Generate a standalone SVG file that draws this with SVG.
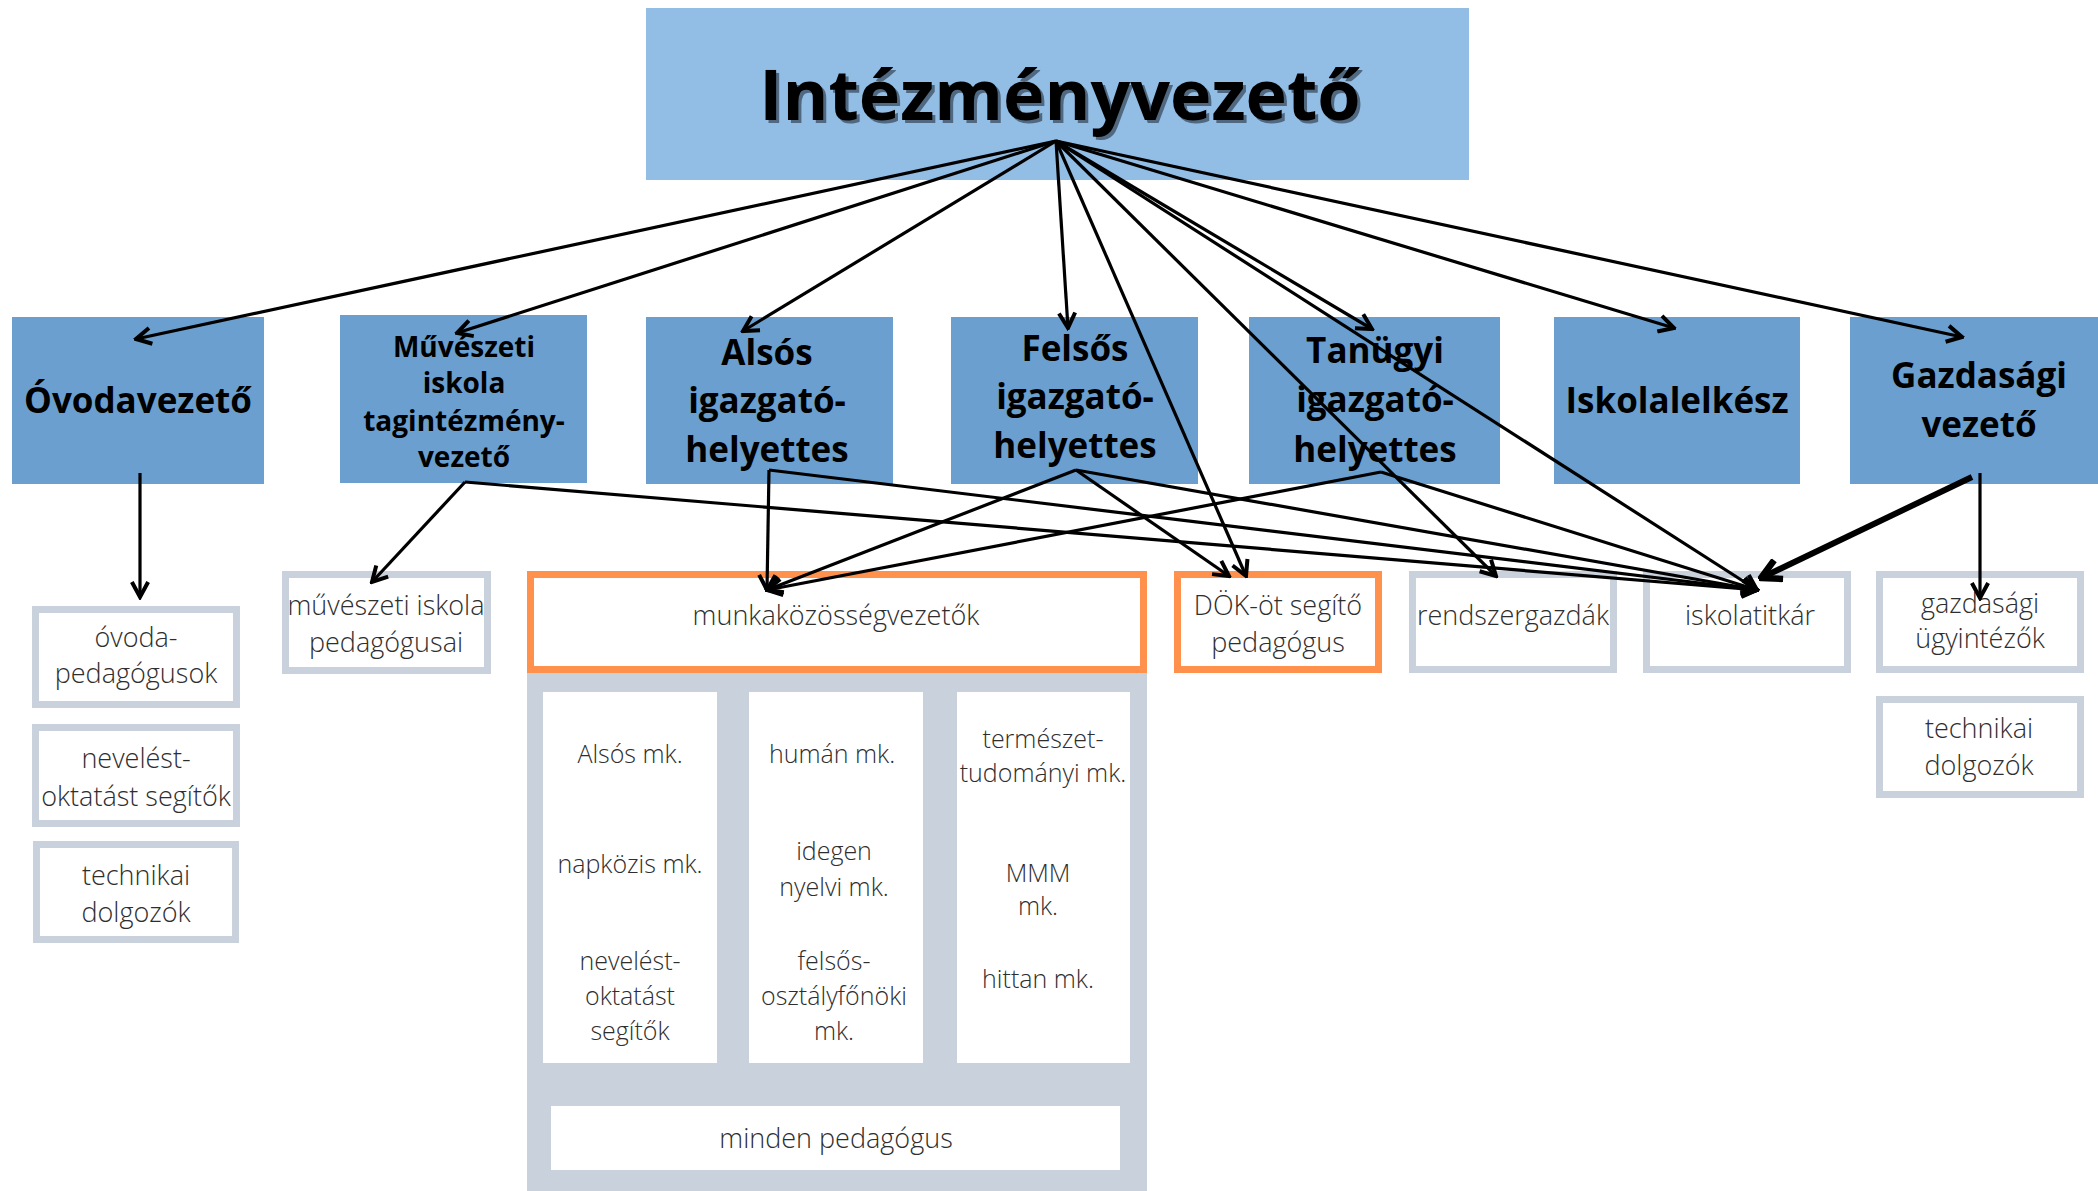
<svg xmlns="http://www.w3.org/2000/svg" width="2098" height="1191" viewBox="0 0 2098 1191">
<style>
.bg{fill:#ffffff}
.top{fill:#92BDE4}
.mid{fill:#6A9FCF}
.leaf{fill:#ffffff;stroke:#C8D1DC;stroke-width:7}
.org{fill:#ffffff;stroke:#FF914D;stroke-width:7}
.panel{fill:#C8D1DC}
.wbox{fill:#ffffff}
.tb{font-family:"Open Sans","Noto Sans","Liberation Sans",sans-serif;font-weight:700;fill:#000;text-anchor:middle}
.tl{font-family:"Open Sans","Noto Sans","Liberation Sans",sans-serif;font-weight:300;fill:#2e2e2e;text-anchor:middle;font-size:27px}
.ts{font-size:25px}
.c{fill:none;stroke:#000;stroke-width:3.2;marker-end:url(#ah)}
.ct{fill:none;stroke:#000;stroke-width:6;marker-end:url(#ahb)}
</style>
<defs>
<marker id="ah" markerUnits="userSpaceOnUse" markerWidth="20" markerHeight="20" viewBox="-14 -8 16 16" refX="0" refY="0" orient="auto">
<path d="M-12,-6.5 L0,0 L-12,6.5" fill="none" stroke="#000" stroke-width="3.2"/>
</marker>
<marker id="ahb" markerUnits="userSpaceOnUse" markerWidth="26" markerHeight="26" viewBox="-18 -10 20 20" refX="0" refY="0" orient="auto">
<path d="M-15,-8 L0,0 L-15,8" fill="none" stroke="#000" stroke-width="5"/>
</marker>
</defs>
<rect class="bg" x="0" y="0" width="2098" height="1191"/>

<g id="intezmenyvezeto">
<rect class="top" x="646" y="8" width="823" height="172"/>
<text class="tb" x="1063" y="123" font-size="70" style="fill:#3a4d61;opacity:0.75">Intézményvezető</text>
<text class="tb" x="1060" y="120" font-size="70">Intézményvezető</text>
</g>

<g id="ovodavezeto">
<rect class="mid" x="12" y="317" width="252" height="167"/>
<text class="tb" x="138" y="413" font-size="35">Óvodavezető</text>
</g>
<g id="muveszeti">
<rect class="mid" x="340" y="315" width="247" height="168"/>
<text class="tb" font-size="28"><tspan x="464" y="357">Művészeti</tspan><tspan x="464" y="393">iskola</tspan><tspan x="464" y="431">tagintézmény-</tspan><tspan x="464" y="467">vezető</tspan></text>
</g>
<g id="also">
<rect class="mid" x="646" y="317" width="247" height="167"/>
<text class="tb" font-size="35"><tspan x="767" y="365">Alsós</tspan><tspan x="767" y="413">igazgató-</tspan><tspan x="767" y="462">helyettes</tspan></text>
</g>
<g id="felso">
<rect class="mid" x="951" y="317" width="247" height="167"/>
<text class="tb" font-size="35"><tspan x="1075" y="361">Felsős</tspan><tspan x="1075" y="409">igazgató-</tspan><tspan x="1075" y="458">helyettes</tspan></text>
</g>
<g id="tanugyi">
<rect class="mid" x="1249" y="317" width="251" height="167"/>
<text class="tb" font-size="35"><tspan x="1375" y="363">Tanügyi</tspan><tspan x="1375" y="412">igazgató-</tspan><tspan x="1375" y="462">helyettes</tspan></text>
</g>
<g id="iskolalelkesz">
<rect class="mid" x="1554" y="317" width="246" height="167"/>
<text class="tb" x="1677" y="413" font-size="35">Iskolalelkész</text>
</g>
<g id="gazdasagi">
<rect class="mid" x="1850" y="317" width="248" height="167"/>
<text class="tb" font-size="35"><tspan x="1979" y="388">Gazdasági</tspan><tspan x="1979" y="437">vezető</tspan></text>
</g>

<g id="ovoda-pedagogusok">
<rect class="leaf" x="35.5" y="609.5" width="201" height="95"/>
<text class="tl"><tspan x="136" y="647">óvoda-</tspan><tspan x="136" y="683">pedagógusok</tspan></text>
</g>
<g id="nevelest-oktatast-segitok">
<rect class="leaf" x="35.5" y="727.5" width="201" height="96"/>
<text class="tl"><tspan x="136" y="768">nevelést-</tspan><tspan x="136" y="806">oktatást segítők</tspan></text>
</g>
<g id="technikai-dolgozok-1">
<rect class="leaf" x="36.5" y="844.5" width="199" height="95"/>
<text class="tl"><tspan x="136" y="885">technikai</tspan><tspan x="136" y="922">dolgozók</tspan></text>
</g>
<g id="muveszeti-pedagogusai">
<rect class="leaf" x="285.5" y="574.5" width="202" height="96"/>
<text class="tl"><tspan x="386" y="615">művészeti iskola</tspan><tspan x="386" y="652">pedagógusai</tspan></text>
</g>
<g id="munkakozossegvezetok">
<rect class="org" x="530.5" y="574.5" width="613" height="95"/>
<text class="tl" x="836" y="625">munkaközösségvezetők</text>
</g>
<g id="mk-panel">
<rect class="panel" x="527" y="673" width="620" height="518"/>
<rect class="wbox" x="543" y="692" width="174" height="371"/>
<rect class="wbox" x="749" y="692" width="174" height="371"/>
<rect class="wbox" x="957" y="692" width="173" height="371"/>
<rect class="wbox" x="551" y="1106" width="569" height="64"/>
<text class="tl ts"><tspan x="630" y="763">Alsós mk.</tspan><tspan x="630" y="873">napközis mk.</tspan><tspan x="630" y="970">nevelést-</tspan><tspan x="630" y="1005">oktatást</tspan><tspan x="630" y="1040">segítők</tspan></text>
<text class="tl ts"><tspan x="832" y="763">humán mk.</tspan><tspan x="834" y="860">idegen</tspan><tspan x="834" y="896">nyelvi mk.</tspan><tspan x="834" y="970">felsős-</tspan><tspan x="834" y="1005">osztályfőnöki</tspan><tspan x="834" y="1040">mk.</tspan></text>
<text class="tl ts"><tspan x="1043" y="748">természet-</tspan><tspan x="1043" y="782">tudományi mk.</tspan><tspan x="1038" y="882">MMM</tspan><tspan x="1038" y="915">mk.</tspan><tspan x="1038" y="988">hittan mk.</tspan></text>
<text class="tl" x="836" y="1148">minden pedagógus</text>
</g>
<g id="dok">
<rect class="org" x="1177.5" y="574.5" width="201" height="95"/>
<text class="tl"><tspan x="1278" y="615">DÖK-öt segítő</tspan><tspan x="1278" y="652">pedagógus</tspan></text>
</g>
<g id="rendszergazdak">
<rect class="leaf" x="1412.5" y="574.5" width="201" height="95"/>
<text class="tl" x="1513" y="625">rendszergazdák</text>
</g>
<g id="iskolatitkar">
<rect class="leaf" x="1646.5" y="574.5" width="201" height="95"/>
<text class="tl" x="1750" y="625">iskolatitkár</text>
</g>
<g id="gazdasagi-ugyintezok">
<rect class="leaf" x="1879.5" y="574.5" width="201" height="95"/>
<text class="tl"><tspan x="1980" y="613">gazdasági</tspan><tspan x="1980" y="648">ügyintézők</tspan></text>
</g>
<g id="technikai-dolgozok-2">
<rect class="leaf" x="1879.5" y="699.5" width="201" height="95"/>
<text class="tl"><tspan x="1979" y="738">technikai</tspan><tspan x="1979" y="775">dolgozók</tspan></text>
</g>

<g id="connectors">
<path class="c" d="M1056,141 L136,339"/>
<path class="c" d="M1056,141 L457,333"/>
<path class="c" d="M1056,141 L743,331"/>
<path class="c" d="M1056,141 L1068,328"/>
<path class="c" d="M1056,141 L1246,576"/>
<path class="c" d="M1056,141 L1496,576"/>
<path class="c" d="M1056,141 L1372,329"/>
<path class="c" d="M1056,141 L1757,590"/>
<path class="c" d="M1056,141 L1674,328"/>
<path class="c" d="M1056,141 L1962,337"/>
<path class="c" d="M140,473 L140,597"/>
<path class="c" d="M465,482 L372,582"/>
<path class="c" d="M465,482 L1757,590"/>
<path class="c" d="M769,470 L767,590"/>
<path class="c" d="M769,470 L1757,590"/>
<path class="c" d="M1076,470 L767,590"/>
<path class="c" d="M1076,470 L1229,576"/>
<path class="c" d="M1076,470 L1757,590"/>
<path class="c" d="M1381,472 L767,590"/>
<path class="c" d="M1381,472 L1757,590"/>
<path class="ct" d="M1972,477 L1761,578"/>
<path class="c" d="M1980,473 L1980,598"/>
</g>
</svg>
